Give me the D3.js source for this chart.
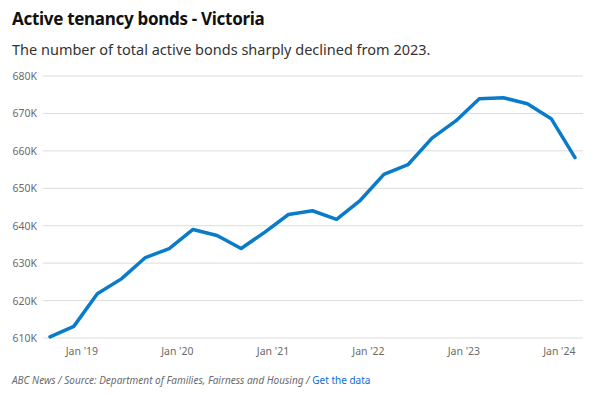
<!DOCTYPE html>
<html><head><meta charset="utf-8">
<script src="https://cdn.jsdelivr.net/npm/d3@7"></script>
<style>
body{margin:0;background:#fff;}
svg{display:block;}
</style></head>
<body><svg id="c" width="612" height="395"></svg>
<script>
const dates = ["2018-09","2018-12","2019-03","2019-06","2019-09","2019-12","2020-03","2020-06","2020-09","2020-12","2021-03","2021-06","2021-09","2021-12","2022-03","2022-06","2022-09","2022-12","2023-03","2023-06","2023-09","2023-12","2024-03"];
const values = [610300,613100,621800,625800,631500,633900,639000,637400,633900,638300,643000,644000,641700,646800,653700,656300,663400,668000,673900,674200,672600,668600,658200];
const yTicks = [610000,620000,630000,640000,650000,660000,670000,680000];
const xTickDates = ["2019-01","2020-01","2021-01","2022-01","2023-01","2024-01"];
const xTickLabels = ["Jan '19","Jan '20","Jan '21","Jan '22","Jan '23","Jan '24"];

const parse = d3.timeParse("%Y-%m");
const data = dates.map((d,i)=>({date:parse(d), value:values[i]}));
const svg = d3.select("#c");
const font = "'Noto Sans', sans-serif";

const x = d3.scaleTime().domain([parse("2018-09"), parse("2024-03")]).range([50,575]);
const y = d3.scaleLinear().domain([610000,680000]).range([338,76]);
const left = 43, right = 583;

// grid
svg.append("g").selectAll("line").data(yTicks).join("line")
  .attr("x1",left).attr("x2",right)
  .attr("y1",d=>y(d)).attr("y2",d=>y(d))
  .attr("stroke","#dcdcdc").attr("stroke-width",1);

// y labels
svg.append("g").selectAll("text").data(yTicks).join("text")
  .attr("x",37).attr("y",d=>y(d)+4)
  .attr("text-anchor","end")
  .attr("font-family",font).attr("font-size",10.5).attr("fill","#6b6b6b")
  .text(d=>d3.format(".0f")(d/1000)+"K");

// x labels
svg.append("g").selectAll("text").data(xTickDates).join("text")
  .attr("x",d=>x(parse(d))).attr("y",355)
  .attr("text-anchor","middle")
  .attr("font-family",font).attr("font-size",10.5).attr("fill","#6b6b6b")
  .text((d,i)=>xTickLabels[i]);

// line
svg.append("path").datum(data)
  .attr("fill","none").attr("stroke","#0a7bc8").attr("stroke-width",3.5)
  .attr("stroke-linejoin","round").attr("stroke-linecap","round")
  .attr("d", d3.line().x(d=>x(d.date)).y(d=>y(d.value)));

// title
svg.append("text").attr("x",12).attr("y",25)
  .attr("font-family",font).attr("font-weight","bold").attr("font-size",17).attr("fill","#111")
  .attr("letter-spacing",-0.3)
  .text("Active tenancy bonds - Victoria");
svg.append("text").attr("x",12).attr("y",55)
  .attr("font-family",font).attr("font-size",14.5).attr("fill","#333")
  .text("The number of total active bonds sharply declined from 2023.");

// footer
const f = svg.append("text").attr("x",12).attr("y",384)
  .attr("font-family",font).attr("font-size",10).attr("font-style","italic").attr("fill","#6b6b6b");
f.append("tspan").text("ABC News / Source: Department of Families, Fairness and Housing / ");
f.append("tspan").attr("fill","#0a6ed6").attr("font-style","normal").text("Get the data");
</script></body></html>
